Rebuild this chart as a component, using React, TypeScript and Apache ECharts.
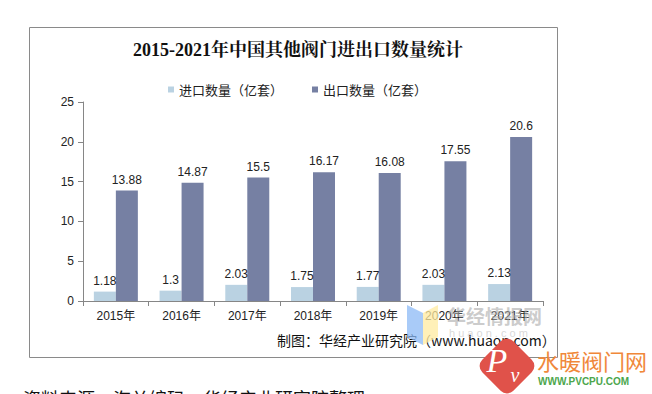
import React, { useEffect, useRef } from "react";
import * as echarts from "echarts";

const categories = ["2015年", "2016年", "2017年", "2018年", "2019年", "2020年", "2021年"];
const importValues = [1.18, 1.3, 2.03, 1.75, 1.77, 2.03, 2.13];
const exportValues = [13.88, 14.87, 15.5, 16.17, 16.08, 17.55, 20.6];
const seriesNames = ["进口数量（亿套）", "出口数量（亿套）"];
const titleText = "2015-2021年中国其他阀门进出口数量统计";
const creditText = "制图：华经产业研究院（www.huaon.com）";
const sourceText = "资料来源：海关编码，华经产业研究院整理";

const SANS = "Liberation Sans, Arial, 'Noto Sans CJK SC', sans-serif";

export default function App() {
  const ref = useRef<HTMLDivElement>(null);
  useEffect(() => {
    if (!ref.current) return;
    const chart = echarts.init(ref.current, null, { renderer: "svg" });
    const labelStyle = {
      show: true,
      position: "top" as const,
      distance: 5,
      color: "#222",
      fontSize: 12,
      fontFamily: SANS,
    };
    chart.setOption({
      animation: false,
      backgroundColor: "#fff",
      title: {
        text: titleText,
        left: 293,
        top: 36,
        textAlign: "center",
        textStyle: {
          fontFamily: "Liberation Serif, 'Noto Serif CJK SC', 'Noto Sans CJK SC', serif",
          fontWeight: "bold",
          fontSize: 18,
          color: "#111",
        },
      },
      legend: {
        data: seriesNames,
        left: 163,
        top: 78,
        icon: "rect",
        itemWidth: 6,
        itemHeight: 6,
        itemGap: 29,
        textStyle: { fontSize: 13, color: "#222", fontFamily: "'Noto Sans CJK SC', sans-serif" },
      },
      grid: { left: 83, right: 109, top: 102, bottom: 93, containLabel: false },
      xAxis: {
        type: "category",
        data: categories,
        boundaryGap: true,
        axisLine: { show: true, lineStyle: { color: "#868686", width: 1 } },
        axisTick: { show: true, length: 5, alignWithLabel: false, lineStyle: { color: "#868686" } },
        axisLabel: { color: "#222", fontSize: 12, margin: 9, fontFamily: SANS },
      },
      yAxis: {
        type: "value",
        min: 0,
        max: 25,
        interval: 5,
        axisLine: { show: true, lineStyle: { color: "#868686", width: 1 } },
        axisTick: { show: true, length: 5, lineStyle: { color: "#868686" } },
        splitLine: { show: false },
        axisLabel: { color: "#222", fontSize: 12, margin: 9, fontFamily: SANS },
      },
      series: [
        {
          name: seriesNames[0],
          type: "bar",
          data: importValues,
          barWidth: 22,
          barGap: "0%",
          itemStyle: { color: "#BAD2E2" },
          label: labelStyle,
        },
        {
          name: seriesNames[1],
          type: "bar",
          data: exportValues,
          barWidth: 22,
          barGap: "0%",
          itemStyle: { color: "#7680A3" },
          label: labelStyle,
        },
      ],
      graphic: [
        {
          type: "rect",
          shape: { x: 29.5, y: 27.5, width: 528, height: 330 },
          style: { fill: "none", stroke: "#8a8a8a", lineWidth: 1 },
          z: -1,
        },
        {
          type: "text",
          x: 277,
          y: 340,
          style: {
            text: creditText,
            fontSize: 14,
            fill: "#111",
            fontFamily: "'Noto Sans CJK SC', sans-serif",
            verticalAlign: "middle",
          },
        },
        {
          type: "text",
          x: 23,
          y: 389,
          style: {
            text: sourceText,
            fontSize: 18,
            fill: "#111",
            fontFamily: "'Noto Sans CJK SC', sans-serif",
            verticalAlign: "top",
          },
        },
        // huaon watermark
        {
          type: "polygon",
          shape: { points: [[407, 305], [423, 313], [423, 345], [407, 337]] },
          style: { fill: "rgba(140,185,245,0.75)" },
          z: 10,
        },
        {
          type: "polygon",
          shape: { points: [[423, 313], [438, 305], [438, 337], [423, 345]] },
          style: { fill: "rgba(255,235,160,0.75)" },
          z: 10,
        },
        {
          type: "text",
          x: 447,
          y: 315,
          style: {
            text: "华经情报网",
            fontSize: 19,
            fontWeight: "bold",
            fill: "rgba(170,170,170,0.6)",
            fontFamily: "'Noto Sans CJK SC', sans-serif",
            verticalAlign: "middle",
          },
          z: 10,
        },
        {
          type: "text",
          x: 449,
          y: 333,
          style: {
            text: "h u a o n . c o m",
            fontSize: 11,
            fill: "rgba(190,190,190,0.6)",
            fontFamily: SANS,
            verticalAlign: "middle",
          },
          z: 10,
        },
        // pvcpu logo
        {
          type: "rect",
          x: 507,
          y: 366,
          rotation: Math.PI / 4,
          shape: { x: -22, y: -22, width: 44, height: 44, r: 9 },
          style: { fill: "#E0524A" },
          z: 11,
        },
        {
          type: "text",
          x: 497,
          y: 360,
          style: {
            text: "P",
            fontSize: 34,
            fontStyle: "italic",
            fill: "#fff",
            fontFamily: "Liberation Serif, serif",
            align: "center",
            verticalAlign: "middle",
          },
          z: 12,
        },
        {
          type: "text",
          x: 515,
          y: 375,
          style: {
            text: "v",
            fontSize: 20,
            fontStyle: "italic",
            fill: "#fff",
            fontFamily: "Liberation Serif, serif",
            align: "center",
            verticalAlign: "middle",
          },
          z: 12,
        },
        {
          type: "text",
          x: 537,
          y: 360,
          style: {
            text: "水暖阀门网",
            fontSize: 22,
            fill: "#F0883A",
            fontFamily: "'Noto Sans CJK SC', sans-serif",
            verticalAlign: "middle",
          },
          z: 12,
        },
        {
          type: "text",
          x: 538,
          y: 381,
          style: {
            text: "WWW.PVCPU.COM",
            fontSize: 10,
            fontWeight: "bold",
            fill: "#4CA64C",
            fontFamily: SANS,
            verticalAlign: "middle",
          },
          z: 12,
        },
      ],
    });
    return () => chart.dispose();
  }, []);
  return (
    <div
      ref={ref}
      style={{ position: "absolute", left: 0, top: 0, width: 652, height: 394 }}
    />
  );
}
